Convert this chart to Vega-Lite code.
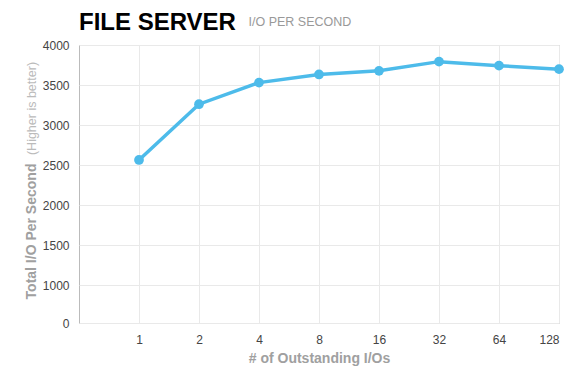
{
  "$schema": "https://vega.github.io/schema/vega-lite/v6.json",
  "width": 480,
  "height": 278,
  "autosize": {"type": "none"},
  "padding": {"left": 79, "top": 45, "right": 21, "bottom": 67},
  "background": "white",
  "config": {
    "font": "Liberation Sans",
    "view": {"stroke": "#bbbbbb", "strokeWidth": 1},
    "axis": {"gridColor": "#e9e9e9", "gridWidth": 1, "domain": false, "ticks": false}
  },
  "title": {
    "text": "FILE SERVER",
    "anchor": "start",
    "frame": "group",
    "fontSize": 24,
    "fontWeight": "bold",
    "color": "#000000",
    "offset": -20
  },
  "data": {
    "values": [
      {"qd": 1, "iops": 2563},
      {"qd": 2, "iops": 3260},
      {"qd": 4, "iops": 3530},
      {"qd": 8, "iops": 3632},
      {"qd": 16, "iops": 3677},
      {"qd": 32, "iops": 3792},
      {"qd": 64, "iops": 3742},
      {"qd": 128, "iops": 3698}
    ]
  },
  "layer": [
    {
      "mark": {
        "type": "line",
        "color": "#4dbbea",
        "strokeWidth": 3.5,
        "point": {"filled": true, "size": 95, "color": "#4dbbea", "opacity": 1}
      },
      "encoding": {
        "x": {
          "field": "qd",
          "type": "quantitative",
          "scale": {"type": "log", "base": 2, "domain": [0.5, 128], "nice": false},
          "axis": {
            "values": [1, 2, 4, 8, 16, 32, 64, 128],
            "format": "d",
            "labelFontSize": 12,
            "labelColor": "#444444",
            "labelPadding": 11,
            "title": "# of Outstanding I/Os",
            "titleFontSize": 14,
            "titleFontWeight": "bold",
            "titleColor": "#a0a0a0",
            "titlePadding": 6
          }
        },
        "y": {
          "field": "iops",
          "type": "quantitative",
          "scale": {"domain": [525, 4000], "nice": false, "zero": false},
          "axis": {
            "values": [525, 1000, 1500, 2000, 2500, 3000, 3500, 4000],
            "format": "d",
            "labelExpr": "datum.value < 600 ? '0' : datum.label",
            "labelFontSize": 12,
            "labelColor": "#444444",
            "labelPadding": 10,
            "title": "Total I/O Per Second",
            "titleFontSize": 14,
            "titleFontWeight": "bold",
            "titleColor": "#a0a0a0",
            "titleX": -44,
            "titleY": 186,
            "titleAlign": "center",
            "titleBaseline": "alphabetic",
            "titleAngle": -90
          }
        }
      }
    },
    {
      "mark": {"type": "point", "opacity": 0},
      "encoding": {
        "x": {
          "field": "qd",
          "type": "quantitative",
          "axis": {
            "orient": "top",
            "labels": false,
            "grid": false,
            "title": "I/O PER SECOND",
            "titleFontSize": 12.5,
            "titleFontWeight": "normal",
            "titleColor": "#999999",
            "titleX": 169,
            "titleY": -20,
            "titleAlign": "left",
            "titleBaseline": "alphabetic"
          }
        },
        "y": {
          "field": "iops",
          "type": "quantitative",
          "axis": {
            "orient": "left",
            "labels": false,
            "grid": false,
            "title": "(Higher is better)",
            "titleFontSize": 12.5,
            "titleFontWeight": "normal",
            "titleColor": "#bbbbbb",
            "titleX": -44,
            "titleY": 63,
            "titleAlign": "center",
            "titleBaseline": "alphabetic",
            "titleAngle": -90
          }
        }
      }
    }
  ],
  "resolve": {"axis": {"x": "independent", "y": "independent"}}
}
